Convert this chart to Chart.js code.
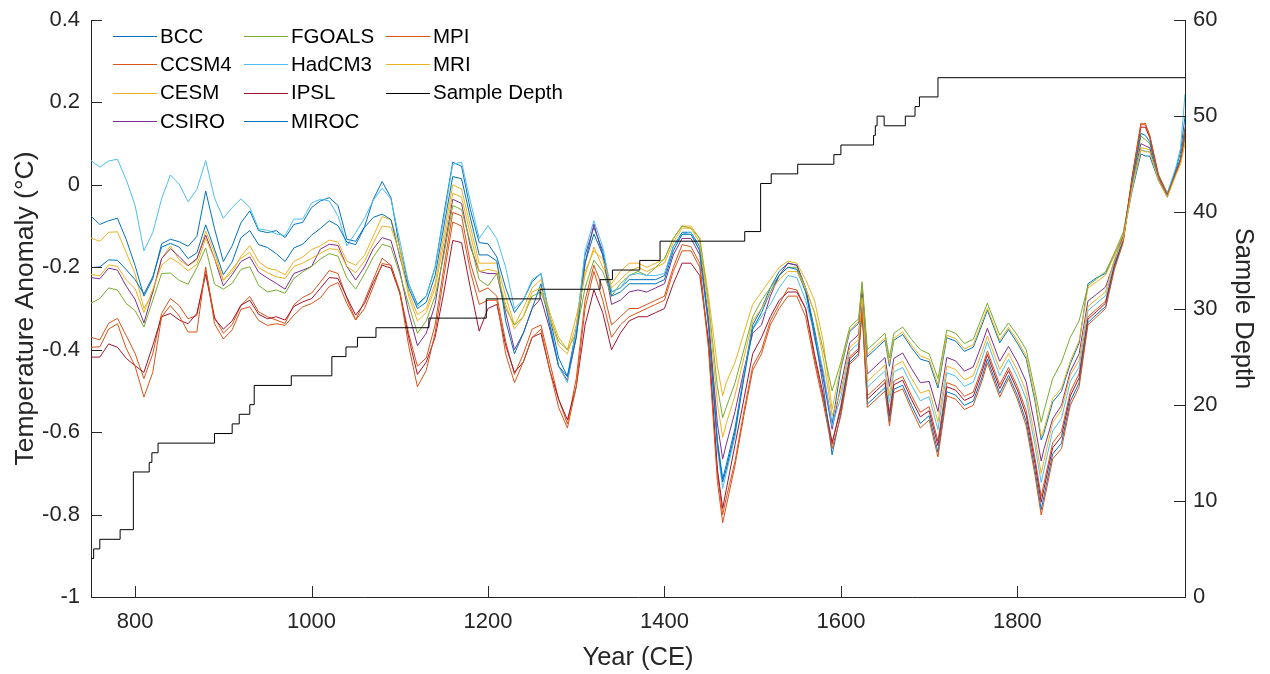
<!DOCTYPE html>
<html>
<head>
<meta charset="utf-8">
<title>Temperature anomaly reconstructions</title>
<script src="https://cdn.jsdelivr.net/npm/chart.js@4.4.0/dist/chart.umd.min.js"></script>
<style>
  html, body { margin: 0; padding: 0; background: #fff; }
  #wrap { width: 1270px; height: 674px; }
</style>
</head>
<body>
<div id="wrap"><canvas id="chart" width="1270" height="674"></canvas></div>
<script>
const years = [
  750, 760, 770, 780, 790, 800, 810, 820, 830, 840,
  850, 860, 870, 880, 890, 900, 910, 920, 930, 940,
  950, 960, 970, 980, 990, 1000, 1010, 1020, 1030, 1040,
  1050, 1060, 1070, 1080, 1090, 1100, 1110, 1120, 1130, 1140,
  1150, 1160, 1170, 1180, 1190, 1200, 1210, 1220, 1230, 1240,
  1250, 1260, 1270, 1280, 1290, 1300, 1310, 1320, 1330, 1340,
  1350, 1360, 1370, 1380, 1390, 1400, 1410, 1420, 1430, 1440,
  1450, 1460, 1466, 1470, 1480, 1490, 1500, 1510, 1520, 1530,
  1540, 1550, 1560, 1570, 1580, 1590, 1600, 1610, 1620, 1624,
  1630, 1640, 1650, 1655, 1660, 1670, 1680, 1690, 1700, 1710,
  1720, 1730, 1740, 1750, 1760, 1766, 1780, 1790, 1800, 1810,
  1820, 1827, 1830, 1840, 1850, 1860, 1870, 1880, 1890, 1900,
  1910, 1920, 1930, 1940, 1945, 1950, 1960, 1970, 1980, 1985,
  1990
];

const bcc = [
  -0.076, -0.096, -0.087, -0.081, -0.133, -0.196, -0.27, -0.228, -0.143, -0.132,
  -0.138, -0.149, -0.125, -0.015, -0.106, -0.186, -0.148, -0.092, -0.063, -0.111,
  -0.116, -0.111, -0.128, -0.096, -0.091, -0.055, -0.039, -0.031, -0.050, -0.132,
  -0.137, -0.102, -0.035, 0.008, -0.031, -0.154, -0.24, -0.29, -0.27, -0.20,
  -0.07, 0.055, 0.045, -0.06, -0.14, -0.143, -0.175, -0.25, -0.31, -0.28,
  -0.235, -0.215, -0.32, -0.42, -0.465, -0.35, -0.17, -0.103, -0.16, -0.26,
  -0.25, -0.23, -0.23, -0.23, -0.23, -0.22, -0.15, -0.115, -0.115, -0.15,
  -0.33, -0.62, -0.713, -0.68, -0.59, -0.46, -0.34, -0.30, -0.25, -0.21,
  -0.19, -0.195, -0.25, -0.35, -0.46, -0.58, -0.446, -0.356, -0.336, -0.243,
  -0.417, -0.397, -0.377, -0.44, -0.377, -0.363, -0.395, -0.423, -0.429, -0.493,
  -0.371, -0.379, -0.404, -0.394, -0.339, -0.304, -0.383, -0.351, -0.384, -0.422,
  -0.525, -0.619, -0.603, -0.527, -0.501, -0.434, -0.384, -0.24, -0.225, -0.215,
  -0.17, -0.125, -0.015, 0.075, 0.07, 0.07, 0.01, -0.03, 0.04, 0.08,
  0.166
];

const ccsm4 = [
  -0.370, -0.376, -0.336, -0.324, -0.366, -0.409, -0.47, -0.410, -0.312, -0.276,
  -0.293, -0.325, -0.317, -0.207, -0.321, -0.360, -0.339, -0.292, -0.271, -0.308,
  -0.320, -0.328, -0.336, -0.291, -0.273, -0.263, -0.236, -0.208, -0.215, -0.276,
  -0.328, -0.281, -0.229, -0.178, -0.195, -0.259, -0.36, -0.44, -0.42, -0.34,
  -0.20, -0.067, -0.075, -0.19, -0.26, -0.25, -0.27, -0.38, -0.46, -0.41,
  -0.35, -0.34, -0.43, -0.52, -0.58, -0.47, -0.28, -0.195, -0.25, -0.34,
  -0.32, -0.30, -0.30, -0.29, -0.28, -0.27, -0.20, -0.145, -0.15, -0.19,
  -0.39, -0.70, -0.80, -0.76, -0.67, -0.55, -0.44, -0.40, -0.33, -0.29,
  -0.25, -0.255, -0.30, -0.42, -0.52, -0.63, -0.534, -0.417, -0.397, -0.291,
  -0.512, -0.492, -0.472, -0.552, -0.476, -0.465, -0.511, -0.552, -0.538, -0.622,
  -0.48, -0.488, -0.513, -0.503, -0.444, -0.403, -0.485, -0.443, -0.489, -0.548,
  -0.664, -0.756, -0.726, -0.626, -0.598, -0.502, -0.458, -0.32, -0.301, -0.282,
  -0.195, -0.13, 0.02, 0.15, 0.145, 0.12, 0.025, -0.02, 0.035, 0.06,
  0.14
];

const cesm = [
  -0.129, -0.137, -0.115, -0.114, -0.165, -0.216, -0.30, -0.262, -0.179, -0.148,
  -0.182, -0.197, -0.182, -0.112, -0.165, -0.231, -0.212, -0.173, -0.147, -0.186,
  -0.202, -0.207, -0.218, -0.186, -0.175, -0.157, -0.148, -0.134, -0.139, -0.185,
  -0.195, -0.171, -0.124, -0.077, -0.085, -0.151, -0.26, -0.315, -0.30, -0.24,
  -0.12, 0.0, -0.01, -0.10, -0.19, -0.19, -0.19, -0.27, -0.34, -0.30,
  -0.25, -0.23, -0.31, -0.37, -0.40, -0.32, -0.22, -0.151, -0.20, -0.24,
  -0.21, -0.19, -0.19, -0.20, -0.19, -0.18, -0.13, -0.10, -0.10, -0.13,
  -0.27, -0.44, -0.512, -0.48, -0.43, -0.36, -0.29, -0.26, -0.23, -0.20,
  -0.185, -0.19, -0.23, -0.28, -0.38, -0.545, -0.44, -0.352, -0.332, -0.241,
  -0.411, -0.391, -0.371, -0.433, -0.372, -0.357, -0.389, -0.415, -0.423, -0.485,
  -0.365, -0.373, -0.398, -0.388, -0.332, -0.299, -0.377, -0.346, -0.377, -0.415,
  -0.516, -0.61, -0.594, -0.519, -0.493, -0.428, -0.378, -0.25, -0.235, -0.219,
  -0.17, -0.12, -0.005, 0.09, 0.088, 0.085, 0.015, -0.025, 0.03, 0.055,
  0.11
];

const csiro = [
  -0.225, -0.228, -0.202, -0.207, -0.246, -0.278, -0.335, -0.260, -0.179, -0.155,
  -0.174, -0.196, -0.179, -0.122, -0.179, -0.245, -0.218, -0.186, -0.175, -0.212,
  -0.226, -0.239, -0.253, -0.215, -0.207, -0.198, -0.156, -0.144, -0.147, -0.198,
  -0.231, -0.199, -0.155, -0.128, -0.135, -0.209, -0.31, -0.39, -0.36, -0.29,
  -0.16, -0.035, -0.045, -0.15, -0.21, -0.215, -0.215, -0.31, -0.40, -0.36,
  -0.30, -0.275, -0.35, -0.44, -0.475, -0.37, -0.19, -0.095, -0.17, -0.29,
  -0.28, -0.26, -0.255, -0.26, -0.25, -0.24, -0.17, -0.13, -0.13, -0.17,
  -0.33, -0.58, -0.665, -0.63, -0.55, -0.45, -0.36, -0.34, -0.27, -0.22,
  -0.19, -0.195, -0.25, -0.37, -0.47, -0.593, -0.485, -0.383, -0.363, -0.264,
  -0.459, -0.439, -0.419, -0.489, -0.421, -0.408, -0.446, -0.48, -0.477, -0.55,
  -0.419, -0.427, -0.452, -0.442, -0.385, -0.348, -0.428, -0.392, -0.43, -0.478,
  -0.586, -0.67, -0.642, -0.568, -0.535, -0.453, -0.41, -0.282, -0.265, -0.248,
  -0.185, -0.125, 0.005, 0.10, 0.095, 0.09, 0.015, -0.025, 0.03, 0.06,
  0.12
];

const fgoals = [
  -0.287, -0.276, -0.250, -0.255, -0.288, -0.305, -0.345, -0.280, -0.215, -0.214,
  -0.232, -0.241, -0.201, -0.153, -0.241, -0.253, -0.239, -0.205, -0.199, -0.244,
  -0.260, -0.255, -0.263, -0.227, -0.211, -0.198, -0.180, -0.167, -0.173, -0.226,
  -0.253, -0.216, -0.175, -0.144, -0.151, -0.216, -0.29, -0.36, -0.33, -0.27,
  -0.17, -0.05, -0.06, -0.14, -0.23, -0.245, -0.215, -0.30, -0.34, -0.32,
  -0.27, -0.26, -0.32, -0.38, -0.40, -0.36, -0.25, -0.183, -0.21, -0.27,
  -0.24, -0.22, -0.21, -0.22, -0.20, -0.18, -0.13, -0.10, -0.105, -0.13,
  -0.29, -0.49, -0.565, -0.54, -0.48, -0.40, -0.32, -0.28, -0.25, -0.22,
  -0.20, -0.20, -0.25, -0.31, -0.40, -0.50, -0.43, -0.345, -0.325, -0.235,
  -0.40, -0.38, -0.36, -0.42, -0.36, -0.345, -0.375, -0.40, -0.41, -0.47,
  -0.352, -0.36, -0.385, -0.375, -0.32, -0.287, -0.365, -0.335, -0.365, -0.40,
  -0.50, -0.576, -0.55, -0.47, -0.43, -0.37, -0.33, -0.245, -0.228, -0.21,
  -0.165, -0.115, 0.0, 0.118, 0.11, 0.10, 0.02, -0.02, 0.03, 0.06,
  0.12
];

const hadcm3 = [
  0.059, 0.043, 0.058, 0.062, 0.012, -0.050, -0.16, -0.116, -0.034, 0.024,
  0.002, -0.041, -0.011, 0.059, -0.032, -0.081, -0.055, -0.034, -0.055, -0.107,
  -0.110, -0.119, -0.123, -0.083, -0.083, -0.044, -0.035, -0.039, -0.075, -0.148,
  -0.116, -0.081, -0.037, -0.008, -0.035, -0.135, -0.24, -0.295, -0.27, -0.20,
  -0.08, 0.05, 0.055, -0.04, -0.13, -0.099, -0.131, -0.20, -0.30, -0.28,
  -0.23, -0.215, -0.33, -0.44, -0.48, -0.35, -0.16, -0.087, -0.15, -0.26,
  -0.25, -0.22, -0.215, -0.22, -0.22, -0.215, -0.15, -0.12, -0.115, -0.16,
  -0.35, -0.64, -0.737, -0.70, -0.61, -0.46, -0.35, -0.32, -0.29, -0.25,
  -0.22, -0.225, -0.28, -0.36, -0.45, -0.585, -0.515, -0.404, -0.384, -0.28,
  -0.491, -0.471, -0.451, -0.527, -0.454, -0.443, -0.486, -0.524, -0.514, -0.594,
  -0.456, -0.464, -0.489, -0.479, -0.421, -0.381, -0.463, -0.423, -0.466, -0.52,
  -0.633, -0.722, -0.693, -0.597, -0.567, -0.477, -0.442, -0.305, -0.287, -0.269,
  -0.19, -0.13, -0.005, 0.085, 0.082, 0.08, 0.015, -0.02, 0.045, 0.09,
  0.22
];

const ipsl = [
  -0.418, -0.418, -0.386, -0.394, -0.421, -0.439, -0.455, -0.390, -0.320, -0.312,
  -0.328, -0.337, -0.312, -0.217, -0.325, -0.350, -0.330, -0.292, -0.280, -0.314,
  -0.325, -0.320, -0.328, -0.295, -0.284, -0.276, -0.251, -0.225, -0.227, -0.273,
  -0.316, -0.288, -0.237, -0.195, -0.202, -0.263, -0.37, -0.46, -0.43, -0.37,
  -0.26, -0.135, -0.14, -0.25, -0.355, -0.30, -0.29, -0.39, -0.455, -0.43,
  -0.37, -0.36, -0.45, -0.52, -0.57, -0.49, -0.34, -0.255, -0.31, -0.40,
  -0.36, -0.33, -0.32, -0.32, -0.31, -0.30, -0.24, -0.19, -0.19, -0.22,
  -0.38, -0.69, -0.785, -0.74, -0.63, -0.52, -0.41, -0.37, -0.32, -0.28,
  -0.26, -0.26, -0.30, -0.41, -0.51, -0.625, -0.542, -0.422, -0.402, -0.295,
  -0.52, -0.50, -0.48, -0.562, -0.485, -0.474, -0.521, -0.563, -0.548, -0.633,
  -0.49, -0.498, -0.523, -0.513, -0.453, -0.412, -0.494, -0.451, -0.498, -0.559,
  -0.676, -0.77, -0.739, -0.638, -0.611, -0.512, -0.468, -0.326, -0.307, -0.287,
  -0.195, -0.135, 0.015, 0.14, 0.14, 0.115, 0.02, -0.025, 0.03, 0.06,
  0.13
];

const miroc = [
  -0.201, -0.199, -0.182, -0.183, -0.206, -0.230, -0.265, -0.223, -0.151, -0.142,
  -0.151, -0.179, -0.165, -0.097, -0.156, -0.218, -0.187, -0.128, -0.111, -0.145,
  -0.152, -0.167, -0.186, -0.153, -0.144, -0.122, -0.106, -0.087, -0.099, -0.139,
  -0.145, -0.103, -0.079, -0.071, -0.084, -0.175, -0.25, -0.30, -0.285, -0.22,
  -0.10, 0.02, 0.015, -0.08, -0.17, -0.17, -0.185, -0.33, -0.41, -0.36,
  -0.30, -0.24, -0.34, -0.44, -0.465, -0.37, -0.19, -0.119, -0.17, -0.27,
  -0.26, -0.24, -0.24, -0.24, -0.24, -0.23, -0.16, -0.12, -0.12, -0.16,
  -0.34, -0.63, -0.721, -0.69, -0.60, -0.47, -0.35, -0.31, -0.26, -0.22,
  -0.20, -0.205, -0.26, -0.36, -0.49, -0.655, -0.552, -0.43, -0.41, -0.301,
  -0.532, -0.512, -0.492, -0.575, -0.496, -0.486, -0.535, -0.579, -0.56, -0.649,
  -0.502, -0.51, -0.535, -0.525, -0.466, -0.423, -0.506, -0.462, -0.511, -0.574,
  -0.693, -0.788, -0.757, -0.653, -0.627, -0.525, -0.48, -0.334, -0.314, -0.295,
  -0.20, -0.135, 0.01, 0.125, 0.12, 0.105, 0.02, -0.025, 0.035, 0.065,
  0.135
];

const mpi = [
  -0.394, -0.393, -0.350, -0.337, -0.397, -0.440, -0.515, -0.455, -0.320, -0.293,
  -0.318, -0.357, -0.357, -0.199, -0.337, -0.374, -0.352, -0.302, -0.296, -0.329,
  -0.341, -0.337, -0.341, -0.316, -0.296, -0.288, -0.274, -0.247, -0.237, -0.288,
  -0.328, -0.300, -0.247, -0.191, -0.195, -0.259, -0.39, -0.49, -0.45, -0.36,
  -0.22, -0.09, -0.10, -0.21, -0.29, -0.28, -0.28, -0.41, -0.48, -0.43,
  -0.37, -0.35, -0.45, -0.54, -0.59, -0.49, -0.30, -0.21, -0.28, -0.37,
  -0.34, -0.32, -0.31, -0.30, -0.29, -0.28, -0.21, -0.16, -0.16, -0.20,
  -0.40, -0.72, -0.82, -0.78, -0.68, -0.56, -0.45, -0.41, -0.34, -0.30,
  -0.27, -0.27, -0.32, -0.43, -0.53, -0.64, -0.56, -0.435, -0.415, -0.305,
  -0.54, -0.52, -0.50, -0.585, -0.505, -0.495, -0.545, -0.59, -0.57, -0.66,
  -0.512, -0.52, -0.545, -0.535, -0.475, -0.432, -0.515, -0.47, -0.52, -0.585,
  -0.705, -0.801, -0.77, -0.665, -0.64, -0.535, -0.49, -0.34, -0.32, -0.30,
  -0.205, -0.14, 0.015, 0.145, 0.15, 0.12, 0.02, -0.025, 0.03, 0.06,
  0.13
];

const mri = [
  -0.217, -0.221, -0.194, -0.198, -0.231, -0.252, -0.31, -0.254, -0.195, -0.177,
  -0.190, -0.209, -0.193, -0.130, -0.179, -0.232, -0.204, -0.178, -0.164, -0.201,
  -0.213, -0.223, -0.227, -0.198, -0.190, -0.178, -0.166, -0.155, -0.157, -0.198,
  -0.213, -0.185, -0.141, -0.100, -0.103, -0.167, -0.27, -0.33, -0.31, -0.25,
  -0.14, -0.02, -0.03, -0.12, -0.21, -0.205, -0.21, -0.29, -0.35, -0.32,
  -0.26, -0.25, -0.32, -0.39, -0.41, -0.34, -0.21, -0.16, -0.18, -0.25,
  -0.23, -0.21, -0.20, -0.21, -0.20, -0.19, -0.14, -0.105, -0.105, -0.14,
  -0.30, -0.53, -0.613, -0.58, -0.51, -0.42, -0.33, -0.30, -0.26, -0.23,
  -0.21, -0.21, -0.25, -0.31, -0.42, -0.56, -0.50, -0.395, -0.375, -0.274,
  -0.477, -0.457, -0.437, -0.511, -0.44, -0.428, -0.469, -0.505, -0.498, -0.575,
  -0.44, -0.448, -0.473, -0.463, -0.405, -0.367, -0.448, -0.409, -0.45, -0.502,
  -0.613, -0.70, -0.671, -0.577, -0.546, -0.461, -0.426, -0.295, -0.277, -0.26,
  -0.18, -0.13, -0.01, 0.085, 0.08, 0.08, 0.01, -0.03, 0.025, 0.05,
  0.10
];

// sample depth: year where the count changes, and the new count
const depthYears = [
  750, 753, 760, 783, 798, 816, 819, 826, 890, 910,
  918, 930, 935, 977, 1023, 1039, 1052, 1073, 1133, 1198,
  1259, 1327, 1341, 1372, 1395, 1491, 1509, 1521, 1551, 1592,
  1600, 1637, 1639, 1641, 1649, 1673, 1684, 1689, 1710, 1990
];
const depthValues = [
  4, 5, 6, 7, 13, 14, 15, 16, 17, 18,
  19, 20, 22, 23, 25, 26, 27, 28, 29, 31,
  32, 33, 34, 35, 37, 38, 43, 44, 45, 46,
  47, 48, 49, 50, 49, 50, 51, 52, 54, 54
];

const xTicks = [800, 1000, 1200, 1400, 1600, 1800];
const yTicks = [-1, -0.8, -0.6, -0.4, -0.2, 0, 0.2, 0.4];
const depthTicks = [0, 10, 20, 30, 40, 50, 60];

const models = [
  { label: 'BCC', values: bcc, color: '#0072BD' },
  { label: 'CCSM4', values: ccsm4, color: '#D95319' },
  { label: 'CESM', values: cesm, color: '#EDB120' },
  { label: 'CSIRO', values: csiro, color: '#7E2F8E' },
  { label: 'FGOALS', values: fgoals, color: '#77AC30' },
  { label: 'HadCM3', values: hadcm3, color: '#4DBEEE' },
  { label: 'IPSL', values: ipsl, color: '#A2142F' },
  { label: 'MIROC', values: miroc, color: '#0072BD' },
  { label: 'MPI', values: mpi, color: '#D95319' },
  { label: 'MRI', values: mri, color: '#EDB120' }
];

const axisColor = '#262626';
const fontFamily = '"Liberation Sans", Arial, Helvetica, sans-serif';
Chart.defaults.font.family = fontFamily;

const datasets = models.map((m, i) => ({
  label: m.label,
  data: years.map((yr, j) => ({ x: yr, y: m.values[j] })),
  borderColor: m.color,
  borderWidth: 1,
  pointRadius: 0,
  tension: 0,
  yAxisID: 'y',
  order: 20 - i
}));

datasets.push({
  label: 'Sample Depth',
  data: depthYears.map((yr, j) => ({ x: yr, y: depthValues[j] })),
  borderColor: '#000000',
  borderWidth: 1,
  pointRadius: 0,
  stepped: 'before',
  yAxisID: 'y2',
  order: 1
});

// inward tick marks like the original axes
const tickMarks = {
  id: 'tickMarks',
  afterDraw(chart) {
    const { ctx, chartArea, scales } = chart;
    const len = 11;
    ctx.save();
    ctx.strokeStyle = axisColor;
    ctx.lineWidth = 1;
    ctx.beginPath();
    xTicks.forEach(v => {
      const px = Math.round(scales.x.getPixelForValue(v)) + 0.5;
      ctx.moveTo(px, chartArea.bottom);
      ctx.lineTo(px, chartArea.bottom - len);
    });
    yTicks.forEach(v => {
      const py = Math.round(scales.y.getPixelForValue(v)) + 0.5;
      ctx.moveTo(chartArea.left, py);
      ctx.lineTo(chartArea.left + len, py);
    });
    depthTicks.forEach(v => {
      const py = Math.round(scales.y2.getPixelForValue(v)) + 0.5;
      ctx.moveTo(chartArea.right, py);
      ctx.lineTo(chartArea.right - len, py);
    });
    ctx.stroke();
    ctx.restore();
  }
};

// three column legend in the upper left corner
const legendBox = {
  id: 'legendBox',
  afterDraw(chart) {
    const ctx = chart.ctx;
    const colX = [113, 244, 386];
    const rowY = [36, 64.3, 92.6, 121];
    ctx.save();
    ctx.font = '20.5px ' + fontFamily;
    ctx.textBaseline = 'middle';
    ctx.textAlign = 'left';
    chart.data.datasets.forEach((ds, i) => {
      const x0 = colX[Math.floor(i / 4)];
      const y0 = rowY[i % 4];
      ctx.strokeStyle = ds.borderColor;
      ctx.lineWidth = 1;
      ctx.beginPath();
      ctx.moveTo(x0, Math.round(y0) + 0.5);
      ctx.lineTo(x0 + 44, Math.round(y0) + 0.5);
      ctx.stroke();
      ctx.fillStyle = '#000000';
      ctx.fillText(ds.label, x0 + 47, y0 + 1);
    });
    ctx.restore();
  }
};

const tickFont = { family: fontFamily, size: 22 };
const titleFont = { family: fontFamily, size: 25.5 };

new Chart(document.getElementById('chart').getContext('2d'), {
  type: 'line',
  data: { datasets },
  options: {
    responsive: false,
    animation: false,
    devicePixelRatio: 1,
    layout: { padding: { left: 0, right: 0, top: 20, bottom: 0 } },
    plugins: {
      legend: { display: false },
      tooltip: { enabled: false }
    },
    scales: {
      x: {
        type: 'linear',
        min: 750,
        max: 1990,
        afterBuildTicks: s => { s.ticks = xTicks.map(v => ({ value: v })); },
        afterFit: s => { s.height = 77; },
        grid: { display: false },
        border: { display: true, color: axisColor, width: 1 },
        ticks: {
          font: tickFont,
          color: axisColor,
          padding: 4,
          maxRotation: 0,
          autoSkip: false,
          callback: v => String(v)
        },
        title: {
          display: true,
          text: 'Year (CE)',
          font: titleFont,
          color: axisColor,
          padding: { top: 0, bottom: 1 }
        }
      },
      y: {
        position: 'left',
        min: -1,
        max: 0.4,
        afterBuildTicks: s => { s.ticks = yTicks.map(v => ({ value: v })); },
        afterFit: s => { s.width = 91; },
        grid: { display: false },
        border: { display: true, color: axisColor, width: 1 },
        ticks: {
          font: tickFont,
          color: axisColor,
          padding: 3,
          callback: v => {
            const r = Math.round(v * 10) / 10;
            return r === 0 ? '0' : String(r);
          }
        },
        title: {
          display: true,
          text: 'Temperature Anomaly (°C)',
          font: { family: fontFamily, size: 26.5 },
          color: axisColor,
          padding: { top: 10, bottom: 0 }
        }
      },
      y2: {
        position: 'right',
        min: 0,
        max: 60,
        afterBuildTicks: s => { s.ticks = depthTicks.map(v => ({ value: v })); },
        afterFit: s => { s.width = 85; },
        grid: { display: false, drawOnChartArea: false },
        border: { display: true, color: axisColor, width: 1 },
        ticks: {
          font: tickFont,
          color: axisColor,
          padding: 0,
          callback: v => String(v)
        },
        title: {
          display: true,
          text: 'Sample Depth',
          font: titleFont,
          color: axisColor,
          padding: { top: 12, bottom: 0 }
        }
      }
    }
  },
  plugins: [tickMarks, legendBox]
});
</script>
</body>
</html>
